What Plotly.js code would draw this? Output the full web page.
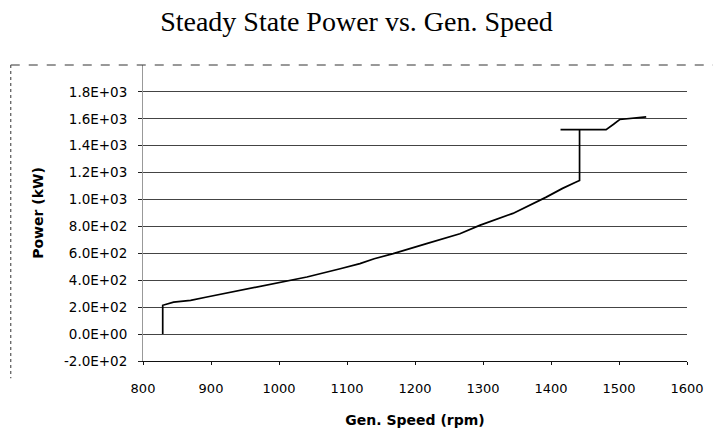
<!DOCTYPE html>
<html>
<head>
<meta charset="utf-8">
<script src="https://cdn.plot.ly/plotly-3.0.1.min.js"></script>
<style>
  html, body { margin: 0; padding: 0; background: #ffffff; }
  #chart { width: 713px; height: 446px; }
</style>
</head>
<body>
<div id="chart"></div>
<script>
// Generator speed (rpm) and steady-state power (kW)
const genSpeed = [829, 829, 845, 870, 894, 943, 992, 1041, 1090, 1119, 1140, 1168, 1217, 1266, 1295, 1344, 1393, 1417, 1437, 1442, 1442, 1414, 1442, 1481, 1492, 1501, 1540];
const power    = [0, 214, 238, 251, 276, 326, 375, 424, 486, 524, 560, 598, 672, 746, 808, 897, 1018, 1083, 1130, 1142, 1520, 1520, 1520, 1520, 1560, 1595, 1615];

const yTickVals = [-200, 0, 200, 400, 600, 800, 1000, 1200, 1400, 1600, 1800];
const yTickText = ['-2.0E+02', '0.0E+00', '2.0E+02', '4.0E+02', '6.0E+02', '8.0E+02', '1.0E+03', '1.2E+03', '1.4E+03', '1.6E+03', '1.8E+03'];
const xTickVals = [800, 900, 1000, 1100, 1200, 1300, 1400, 1500, 1600];

const trace = {
  x: genSpeed,
  y: power,
  type: 'scatter',
  mode: 'lines',
  line: { color: '#000000', width: 1.7 },
  hoverinfo: 'x+y',
  showlegend: false
};

const layout = {
  width: 713,
  height: 446,
  paper_bgcolor: '#ffffff',
  plot_bgcolor: '#ffffff',
  margin: { l: 142.5, r: 25.5, t: 64.5, b: 85.3, pad: 0 },
  title: {
    text: 'Steady State Power vs. Gen. Speed',
    font: { family: 'Liberation Serif, Times New Roman, serif', size: 28, color: '#000000' },
    xref: 'container', yref: 'container',
    x: 0.5, xanchor: 'center',
    y: 1 - 21 / 446, yanchor: 'middle'
  },
  xaxis: {
    range: [800, 1600],
    tickvals: xTickVals,
    ticktext: xTickVals.map(String),
    showgrid: false,
    zeroline: false,
    showline: true,
    linecolor: '#111111',
    linewidth: 1,
    ticks: 'outside',
    ticklen: 3,
    tickcolor: '#111111',
    ticklabelstandoff: 12,
    tickfont: { family: 'DejaVu Sans, sans-serif', size: 13, color: '#000000' },
    title: {
      text: 'Gen. Speed (rpm)',
      font: { family: 'DejaVu Sans, sans-serif', size: 14, color: '#000000', weight: 'bold' },
      standoff: 20
    }
  },
  yaxis: {
    range: [-200, 2000],
    tickvals: yTickVals,
    ticktext: yTickText,
    showgrid: true,
    gridcolor: '#444444',
    gridwidth: 1,
    zeroline: false,
    showline: true,
    linecolor: '#999999',
    linewidth: 1,
    ticks: 'outside',
    ticklen: 4,
    tickcolor: '#222222',
    ticklabelstandoff: 8,
    tickfont: { family: 'DejaVu Sans, sans-serif', size: 13.5, color: '#000000' },
    title: {
      text: 'Power (kW)',
      font: { family: 'DejaVu Sans, sans-serif', size: 14, color: '#000000', weight: 'bold' },
      standoff: 17
    }
  },
  shapes: [
    { type: 'line', xref: 'paper', yref: 'paper', x0: -132.5 / 545, x1: 1.05, y0: 1, y1: 1,
      line: { color: '#333333', width: 1, dash: 'dash' } },
    { type: 'line', xref: 'paper', yref: 'paper', x0: -132.5 / 545, x1: -132.5 / 545, y0: 1, y1: (360.7 - 378) / 296.2,
      line: { color: '#555555', width: 1.2, dash: 'dot' } }
  ]
};

Plotly.newPlot('chart', [trace], layout, { displayModeBar: false, staticPlot: true });
</script>
</body>
</html>
